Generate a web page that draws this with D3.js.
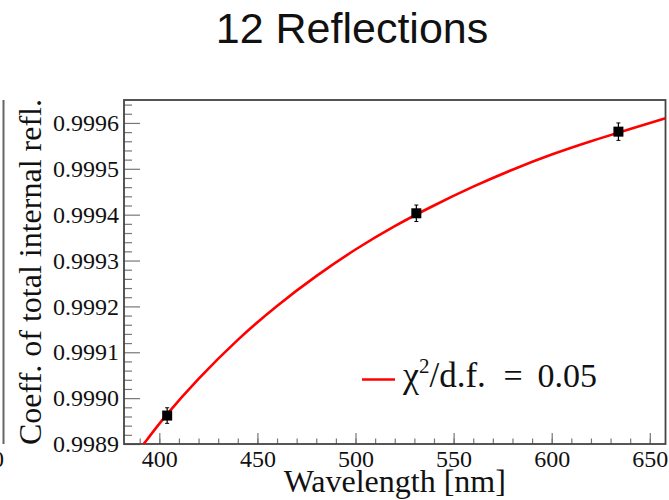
<!DOCTYPE html>
<html>
<head>
<meta charset="utf-8">
<script src="https://cdn.jsdelivr.net/npm/d3@7"></script>
<style>
  html, body { margin: 0; padding: 0; background: #fff; }
  svg { display: block; }
</style>
</head>
<body>
<script>
// ---- data ----
const titleText = "12 Reflections";
const xLabel = "Wavelength [nm]";
const yLabel = "Coeff. of total internal refl.";
const legendChi = "χ";
const legendSup = "2";
const legendRest = "/d.f.";
const legendEq = "=";
const legendValue = "0.05";

const wavelengths = [404, 531, 634];
const coeffs = [0.998962, 0.999403, 0.999581];
const errors = [0.000017, 0.000018, 0.000019];

const fitWavelengths = [390, 394, 404, 420, 440, 460, 480, 500, 520, 540, 560, 580, 600, 620, 640, 658];
const fitValues = [0.998889, 0.998911, 0.998965, 0.999042, 0.999127, 0.999201, 0.999266, 0.999324,
  0.999375, 0.999420, 0.999461, 0.999498, 0.999531, 0.999560, 0.999587, 0.999610];

const xTicks = [400, 450, 500, 550, 600, 650];
const xMinorTicks = [390, 400, 410, 420, 430, 440, 450, 460, 470, 480, 490, 500, 510, 520, 530, 540, 550, 560, 570, 580, 590, 600, 610, 620, 630, 640, 650];
const yTicks = [0.9989, 0.9990, 0.9991, 0.9992, 0.9993, 0.9994, 0.9995, 0.9996];
const yMinorTicks = [0.99892, 0.99894, 0.99896, 0.99898, 0.99902, 0.99904, 0.99906, 0.99908,
  0.99912, 0.99914, 0.99916, 0.99918, 0.99922, 0.99924, 0.99926, 0.99928,
  0.99932, 0.99934, 0.99936, 0.99938, 0.99942, 0.99944, 0.99946, 0.99948,
  0.99952, 0.99954, 0.99956, 0.99958, 0.99962, 0.99964];

// ---- layout ----
const W = 669, H = 500;
const L = 124, R = 665.5, T = 100, B = 444;
const serif = "'Liberation Serif', 'Times New Roman', Times, serif";

const svg = d3.select("body").append("svg").attr("width", W).attr("height", H);

const x = d3.scaleLinear().domain([382, 658]).range([L, R]);
const y = d3.scaleLinear().domain([0.9989, 0.99965]).range([B, T]);

// neighbouring panel remnant on the left edge
svg.append("line").attr("x1", 3.5).attr("x2", 3.5).attr("y1", T).attr("y2", B)
  .attr("stroke", "#666").attr("stroke-width", 2);
svg.append("text").attr("x", 4).attr("y", 467).attr("text-anchor", "end")
  .attr("font-family", serif).attr("font-size", 24).attr("fill", "#111").text("0");

// title
svg.append("text").attr("x", 352).attr("y", 43).attr("text-anchor", "middle")
  .attr("font-family", "'Liberation Sans', Arial, Helvetica, sans-serif")
  .attr("font-size", 43).attr("fill", "#111").text(titleText);

// clip
svg.append("clipPath").attr("id", "plotclip").append("rect")
  .attr("x", L).attr("y", T).attr("width", R - L).attr("height", B - T);

// axes
const xMinor = d3.axisBottom(x).tickValues(xMinorTicks).tickSizeInner(-5.5).tickSizeOuter(0).tickFormat("");
const xMajor = d3.axisBottom(x).tickValues(xTicks).tickSizeInner(-11).tickSizeOuter(0).tickPadding(6).tickFormat(d3.format("d"));
const yMinor = d3.axisLeft(y).tickValues(yMinorTicks).tickSizeInner(-8).tickSizeOuter(0).tickFormat("");
const yMajor = d3.axisLeft(y).tickValues(yTicks).tickSizeInner(-16).tickSizeOuter(0).tickPadding(5).tickFormat(d3.format(".4f"));

function styleAxis(g) {
  g.select(".domain").remove();
  g.selectAll(".tick line").attr("stroke", "#777").attr("stroke-width", 1.2);
  g.selectAll(".tick text").attr("font-family", serif).attr("font-size", 24).attr("fill", "#111");
}
svg.append("g").attr("transform", `translate(0,${B})`).call(xMinor).call(styleAxis);
svg.append("g").attr("transform", `translate(0,${B})`).call(xMajor).call(styleAxis);
svg.append("g").attr("transform", `translate(${L},0)`).call(yMinor).call(styleAxis);
svg.append("g").attr("transform", `translate(${L},0)`).call(yMajor).call(styleAxis);

// frame
svg.append("rect").attr("x", L).attr("y", T).attr("width", R - L).attr("height", B - T)
  .attr("fill", "none").attr("stroke", "#444").attr("stroke-width", 1.8);

// axis titles
svg.append("text").attr("x", (L + R) / 2).attr("y", 492).attr("text-anchor", "middle")
  .attr("font-family", serif).attr("font-size", 32).attr("fill", "#111").text(xLabel);
svg.append("text").attr("transform", `translate(41,${(T + B) / 2}) rotate(-90)`)
  .attr("text-anchor", "middle").attr("font-family", serif).attr("font-size", 32)
  .attr("fill", "#111").text(yLabel);

// fit curve
const fitData = fitWavelengths.map((w, i) => [w, fitValues[i]]);
svg.append("path").datum(fitData)
  .attr("clip-path", "url(#plotclip)")
  .attr("d", d3.line().x(d => x(d[0])).y(d => y(d[1])).curve(d3.curveNatural))
  .attr("fill", "none").attr("stroke", "#ff0000").attr("stroke-width", 2.6);

// data points with error bars
const pts = wavelengths.map((w, i) => ({ w, v: coeffs[i], e: errors[i] }));
const gp = svg.append("g");
gp.selectAll("line.err").data(pts).join("line").attr("class", "err")
  .attr("x1", d => x(d.w)).attr("x2", d => x(d.w))
  .attr("y1", d => y(d.v - d.e)).attr("y2", d => y(d.v + d.e))
  .attr("stroke", "#000").attr("stroke-width", 1.2);
gp.selectAll("line.capl").data(pts).join("line").attr("class", "capl")
  .attr("x1", d => x(d.w) - 2).attr("x2", d => x(d.w) + 2)
  .attr("y1", d => y(d.v - d.e)).attr("y2", d => y(d.v - d.e))
  .attr("stroke", "#000").attr("stroke-width", 1);
gp.selectAll("line.caph").data(pts).join("line").attr("class", "caph")
  .attr("x1", d => x(d.w) - 2).attr("x2", d => x(d.w) + 2)
  .attr("y1", d => y(d.v + d.e)).attr("y2", d => y(d.v + d.e))
  .attr("stroke", "#000").attr("stroke-width", 1);
gp.selectAll("rect").data(pts).join("rect")
  .attr("x", d => x(d.w) - 5).attr("y", d => y(d.v) - 5)
  .attr("width", 10).attr("height", 10).attr("fill", "#000");

// legend
svg.append("line").attr("x1", 362).attr("x2", 395).attr("y1", 379.5).attr("y2", 379.5)
  .attr("stroke", "#ff0000").attr("stroke-width", 2.6);
const lt = svg.append("text").attr("x", 403).attr("y", 387)
  .attr("font-family", serif).attr("font-size", 35).attr("fill", "#111");
lt.append("tspan").attr("font-size", 36).text(legendChi);
lt.append("tspan").attr("font-size", 21).attr("dy", -14).text(legendSup);
lt.append("tspan").attr("dy", 14).text(legendRest);
svg.append("text").attr("x", 513).attr("y", 387).attr("text-anchor", "middle")
  .attr("font-family", serif).attr("font-size", 34).attr("fill", "#111").text(legendEq);
svg.append("text").attr("x", 597).attr("y", 387).attr("text-anchor", "end")
  .attr("font-family", serif).attr("font-size", 34).attr("fill", "#111").text(legendValue);
</script>
</body>
</html>
